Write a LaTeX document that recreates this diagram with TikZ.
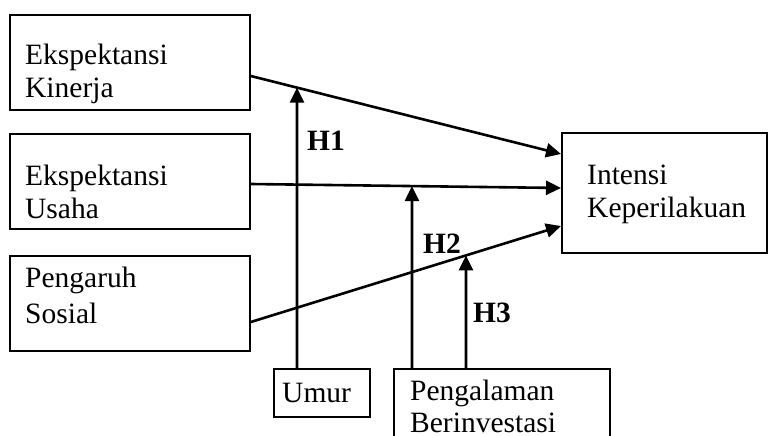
\documentclass[tikz,border=0pt]{standalone}
\usepackage{fontspec}
\setmainfont{Liberation Serif}
\usetikzlibrary{arrows.meta,calc}
\begin{document}
\begin{tikzpicture}[x=1pt,y=-1pt,
  box/.style={draw,line width=1.8pt,inner sep=0pt},
  txt/.style={inner sep=0pt,anchor=base west,font=\fontsize{29.5}{33}\selectfont},
  hlab/.style={inner sep=0pt,anchor=base west,font=\fontsize{29.5}{33}\selectfont\bfseries},
  conn/.style={line width=2.6pt,-{Triangle[length=15pt,width=14pt]}}]
\useasboundingbox (0,0) rectangle (768,436);
\clip (0,0) rectangle (768,436);
% boxes
\node[box,minimum width=240pt,minimum height=95pt,anchor=north west] (k) at (9,14) {};
\node[box,minimum width=240pt,minimum height=95pt,anchor=north west] (u) at (9,133) {};
\node[box,minimum width=240pt,minimum height=95pt,anchor=north west] (s) at (9,255) {};
\node[box,minimum width=205pt,minimum height=120pt,anchor=north west] (i) at (561,132) {};
\node[box,minimum width=96pt,minimum height=48pt,anchor=north west] (um) at (273,368) {};
\node[box,minimum width=216pt,minimum height=90pt,anchor=north west] (p) at (393,368) {};
% texts
\node[txt] (k1) at (25,65) {Ekspektansi};
\node[txt] (k2) at (25,97) {Kinerja};
\node[txt] (u1) at (25,185) {Ekspektansi};
\node[txt] (u2) at (25,218) {Usaha};
\node[txt] (s1) at (25,287) {Pengaruh};
\node[txt] (s2) at (25,323) {Sosial};
\node[txt] (i1) at (587,184) {Intensi};
\node[txt] (i2) at (587,217) {Keperilakuan};
\node[txt] (um1) at (282,402) {Umur};
\node[txt] (p1) at (410,400) {Pengalaman};
\node[txt] (p2) at (410,432) {Berinvestasi};
\node[hlab] (h1) at (307,150) {H1};
\node[hlab] (h2) at (423,253) {H2};
\node[hlab] (h3) at (473,322) {H3};
% connector end points
\coordinate (ka) at (k.east |- 0,76);
\coordinate (kb) at (i.west |- 0,154);
\coordinate (ua) at (u.east |- 0,184);
\coordinate (ub) at (i.west |- 0,188);
\coordinate (sa) at (s.east |- 0,322);
\coordinate (sb) at (i.west |- 0,226);
\coordinate (m1) at (297,368);
\coordinate (m2) at (412,368);
\coordinate (m3) at (466,368);
\draw[conn] (ka) -- (kb);
\draw[conn] (ua) -- (ub);
\draw[conn] (sa) -- (sb);
\draw[conn] (m1) -- (intersection of m1--{297,0} and ka--kb);
\draw[conn] (m2) -- (intersection of m2--{412,0} and ua--ub);
\draw[conn] (m3) -- (intersection of m3--{466,0} and sa--sb);
\end{tikzpicture}
\end{document}
